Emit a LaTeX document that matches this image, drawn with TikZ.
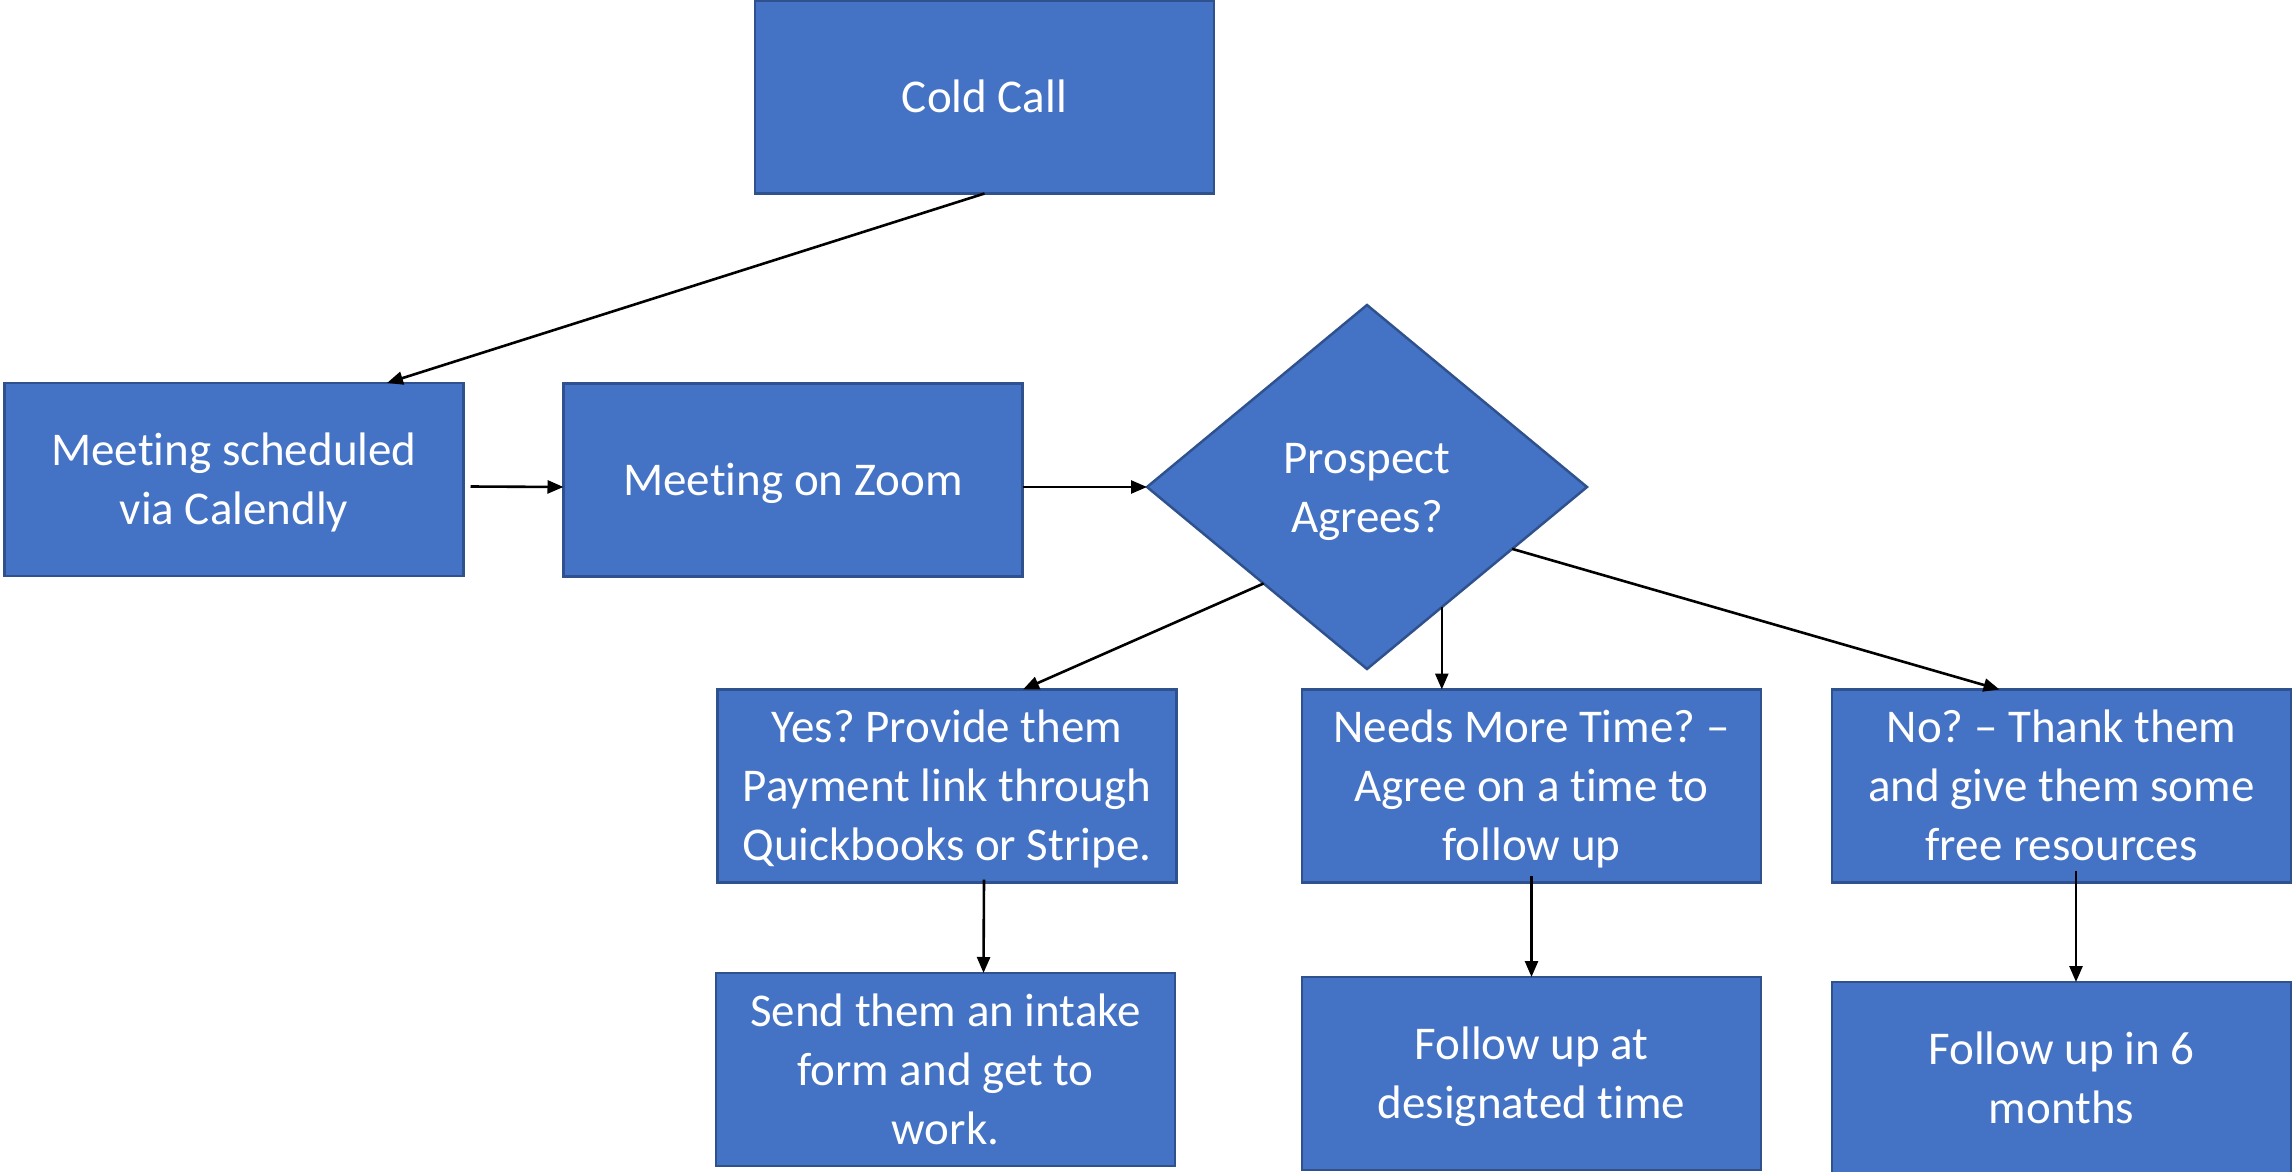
\documentclass[tikz,border=0pt]{standalone}
\usepackage{fontspec}
\setmainfont[Ligatures={NoCommon}]{Carlito}
\usetikzlibrary{shapes.geometric,arrows.meta,calc}
\definecolor{boxfill}{HTML}{4472C4}
\definecolor{boxline}{HTML}{2F528F}
\newcommand{\tstrut}{\rule{0pt}{45pt}}
\newcommand{\bstrut}{\rule[-14pt]{0pt}{0pt}}
\frenchspacing
\begin{document}
\begin{tikzpicture}[x=1pt,y=-1pt,
  box/.style={draw=boxline,fill=boxfill,line width=2.5pt,minimum width=459pt,minimum height=193pt,
    inner sep=0pt,outer sep=0pt,text=white,align=center,font=\fontsize{47}{59}\selectfont},
  decision/.style={box,shape=diamond,minimum width=440pt,minimum height=364pt},
  conn/.style={line width=2.6pt,-{Triangle[length=16pt,width=13pt]}}]
\useasboundingbox (0,0) rectangle (2292,1172);
\node[box] (cold) at (984.5,97) {\tstrut Cold Call\bstrut};
\node[box] (sched) at (234,479.5) {\tstrut Meeting scheduled\\via Calendly\bstrut};
\node[box] (zoom) at (793,480) {\tstrut Meeting on Zoom\bstrut};
\node[decision] (dia) at (1367,487) {\tstrut Prospect\\Agrees?\bstrut};
\node[box] (yes) at (947,786) {\tstrut Yes? Provide them\\Payment link through\\Quickbooks or Stripe.\bstrut};
\node[box] (needs) at (1531.5,786) {\tstrut Needs More Time? --\\Agree on a time to\\follow up\bstrut};
\node[box] (no) at (2061.5,786) {\tstrut No? -- Thank them\\and give them some\\free resources\bstrut};
\node[box] (send) at (945.5,1069.5) {\tstrut Send them an intake\\form and get to\\work.\bstrut};
\node[box] (fat) at (1531.5,1073.5) {\tstrut Follow up at\\designated time\bstrut};
\node[box] (six) at (2061.5,1078.5) {\tstrut Follow up in 6\\months\bstrut};
\coordinate (d1) at ($(dia.west)!0.53!(dia.south)$);
\coordinate (d2) at ($(dia.south)!0.34!(dia.east)$);
\coordinate (d3) at ($(dia.south)!0.66!(dia.east)$);
\draw[conn] (cold.south) -- ([xshift=153pt]sched.north);
\draw[conn] ([shift={(7pt,-7pt)}]sched.east) -- ([yshift=-7pt]zoom.west);
\draw[conn] ([yshift=-7pt]zoom.east) -- (dia.west);
\draw[conn] (d1) -- ([xshift=76pt]yes.north);
\draw[conn] (d2) -- (d2 |- needs.north);
\draw[conn] (d3) -- ([xshift=-62pt]no.north);
\draw[conn] ([shift={(37pt,3pt)}]yes.south) -- ([xshift=38pt]send.north);
\draw[conn] ([yshift=7pt]needs.south) -- (fat.north);
\draw[conn] ([shift={(14.5pt,12pt)}]no.south) -- ([xshift=14.5pt]six.north);
\end{tikzpicture}
\end{document}
